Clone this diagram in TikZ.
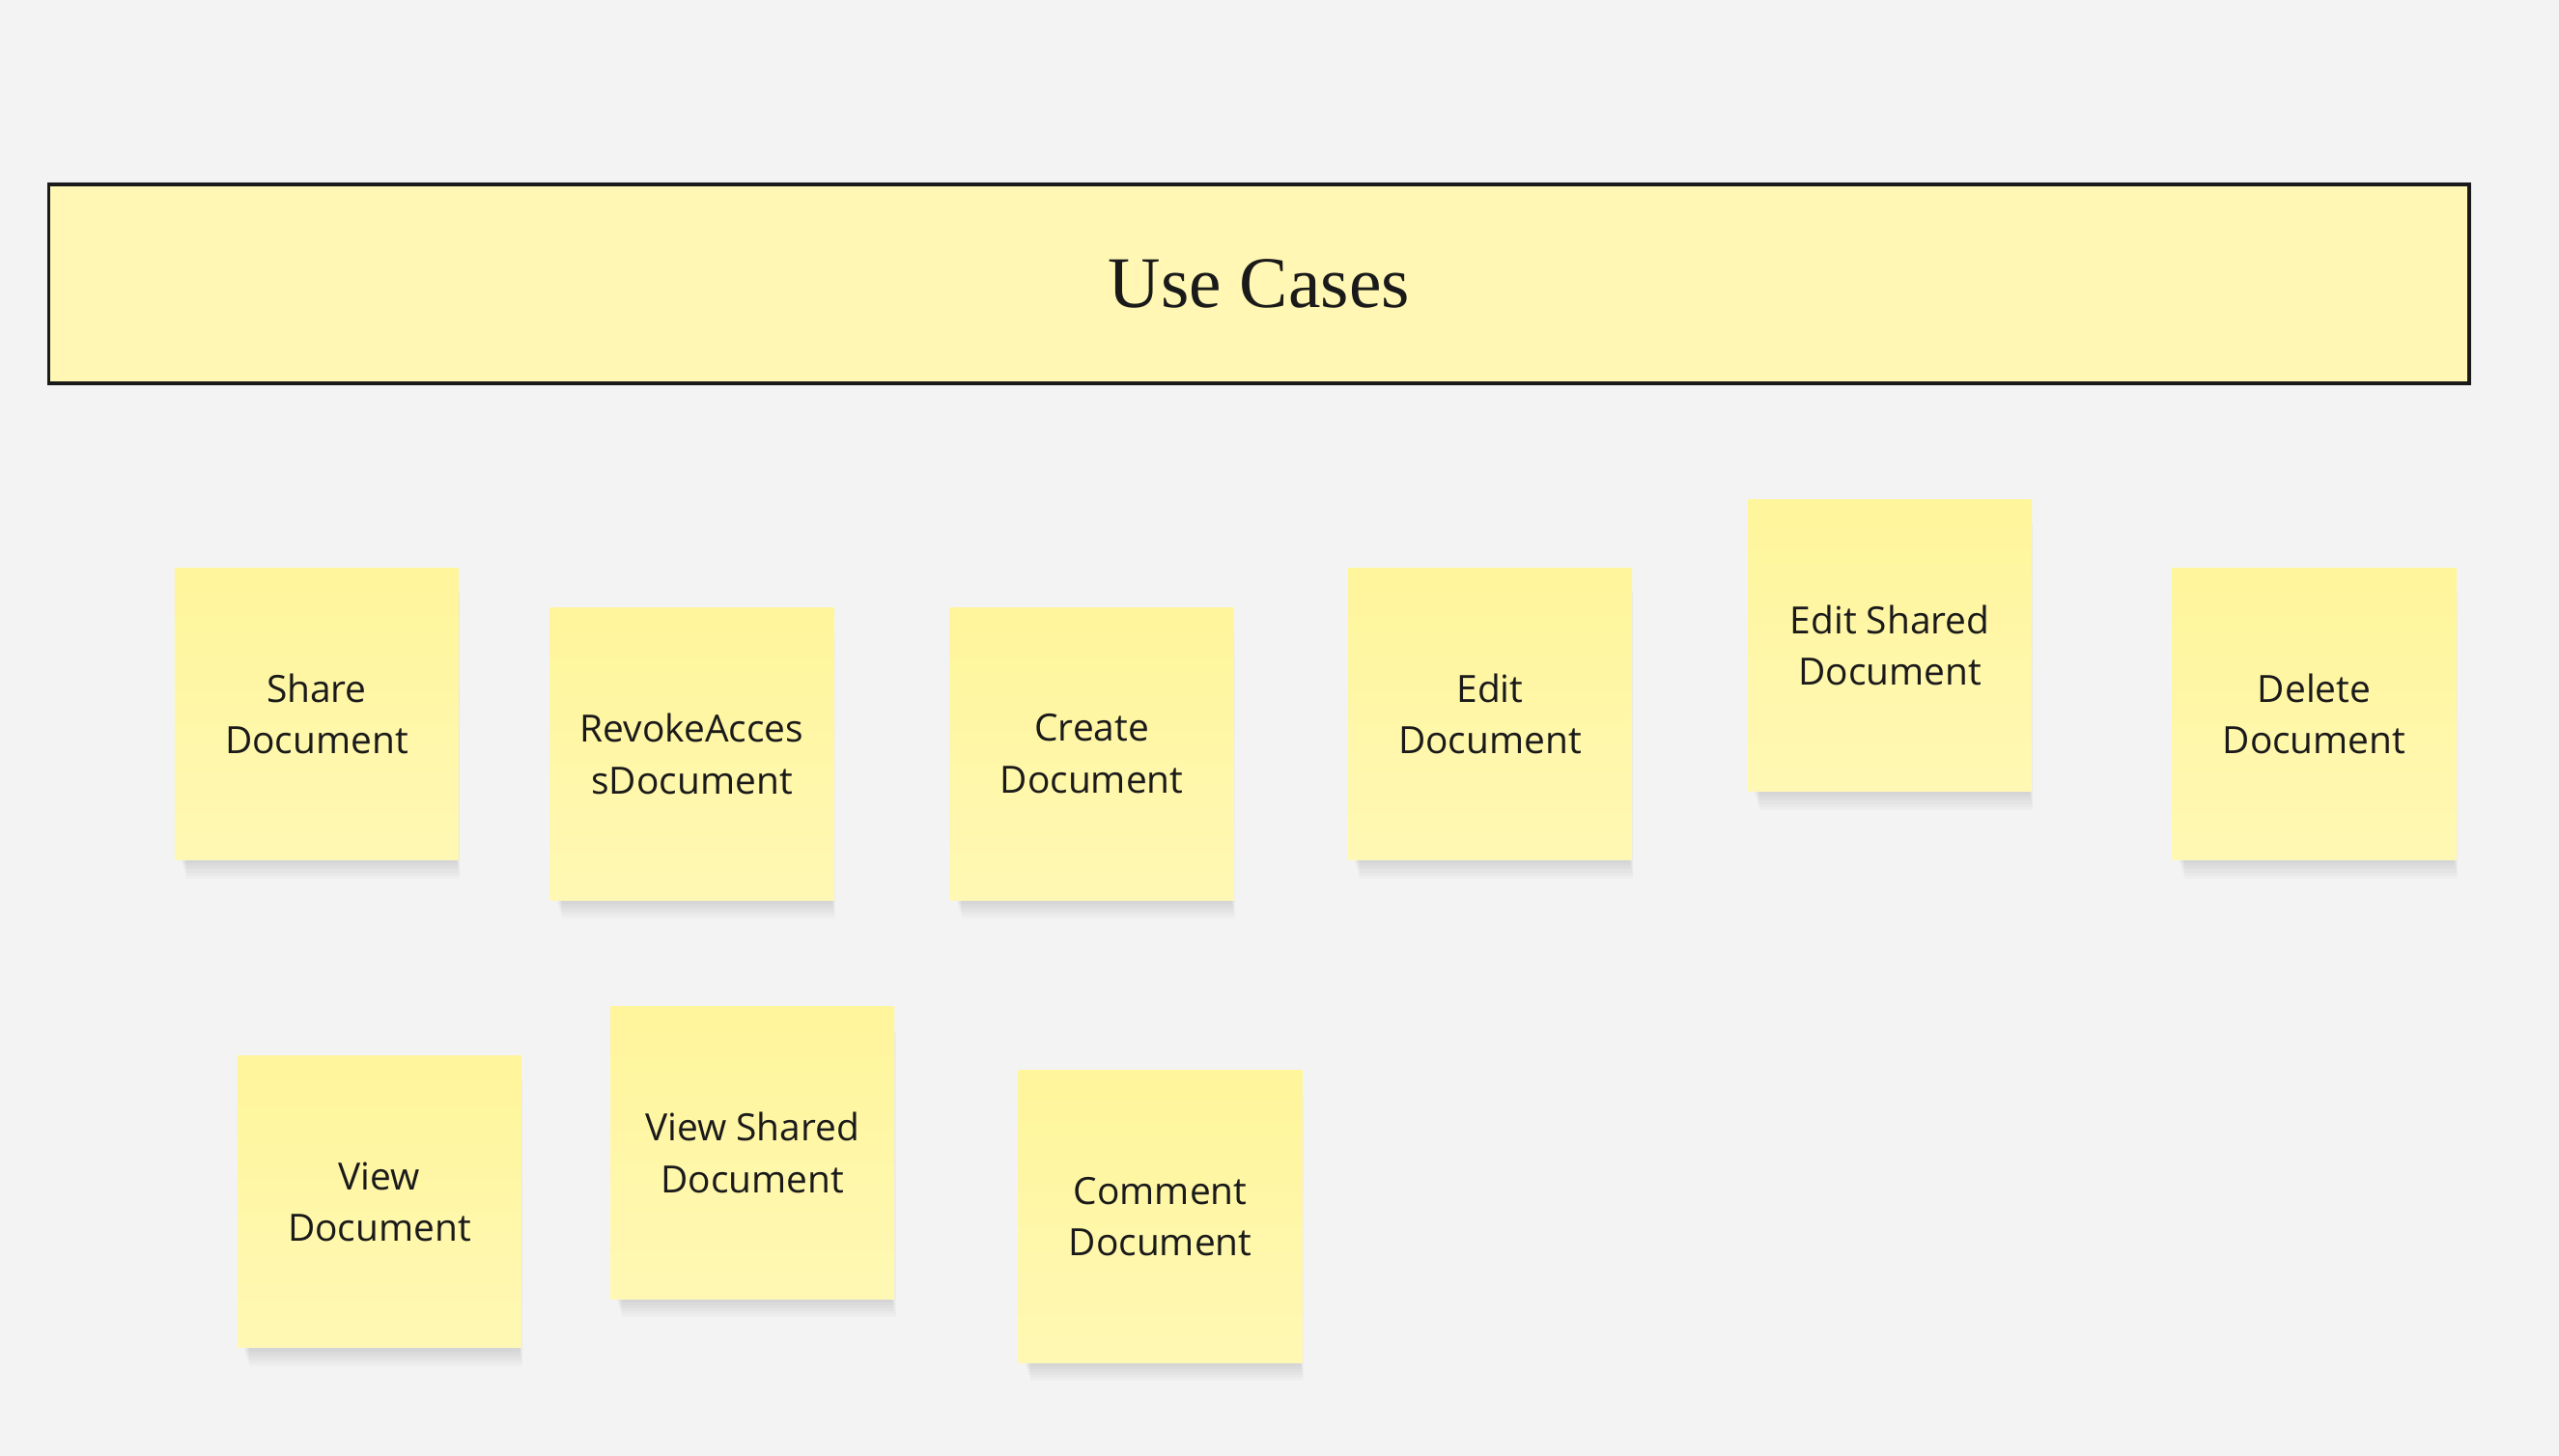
\documentclass[tikz,border=0pt]{standalone}
\usepackage{fontspec}
\setmainfont{Liberation Serif}
\newfontfamily\stickyfont{Open Sans}
\usetikzlibrary{backgrounds}
\definecolor{bgcol}{HTML}{F3F3F3}
\definecolor{titlefill}{HTML}{FFF7B3}
\definecolor{stickytop}{HTML}{FFF59B}
\definecolor{stickybot}{HTML}{FFF8B4}
\definecolor{inkcol}{HTML}{1A1A1A}
\begin{document}
\begin{tikzpicture}[x=0.5pt,y=-0.5pt,
  sticky/.style={rectangle, minimum width=87pt, minimum height=89.5pt, inner sep=0pt,
    top color=stickytop, bottom color=stickybot, draw=none,
    align=center, text=inkcol, font=\stickyfont\fontsize{11.5}{15.8}\selectfont},
  titlebox/.style={rectangle, minimum width=741.5pt, minimum height=61pt, inner sep=0pt,
    fill=titlefill, draw=inkcol, line width=1pt, text=inkcol,
    font=\fontsize{22.3}{26}\selectfont},
  shadowpart/.style={fill=black, fill opacity=0.018}]
\useasboundingbox (0,0) rectangle (1568,892);
\node[titlebox] (title) at (771.5,174) {Use Cases};
\node[sticky] (share) at (194,437.5) {Share\\Document};
\node[sticky] (revoke) at (424,462) {RevokeAcces\\sDocument};
\node[sticky] (create) at (669,462) {Create\\Document};
\node[sticky] (edit) at (913,437.5) {Edit\\Document};
\node[sticky] (editsh) at (1158,395.5) {Edit Shared\\Document};
\node[sticky] (delete) at (1418,437.5) {Delete\\Document};
\node[sticky] (view) at (232.5,736.5) {View\\Document};
\node[sticky] (viewsh) at (461,706.5) {View Shared\\Document};
\node[sticky] (comment) at (711,745.5) {Comment\\Document};
\begin{scope}[on background layer]
\fill[bgcol] (0,0) rectangle (1568,892);
\foreach \n in {share,revoke,create,edit,editsh,delete,view,viewsh,comment}{
  \foreach \k in {1,...,6}{
    \fill[shadowpart] ([xshift=2pt+0.3*\k pt, yshift=-0.9*\k pt]\n.south west) rectangle ([xshift=-1pt+0.2*\k pt, yshift=-8pt]\n.north east);
  }
}
\end{scope}
\end{tikzpicture}
\end{document}
